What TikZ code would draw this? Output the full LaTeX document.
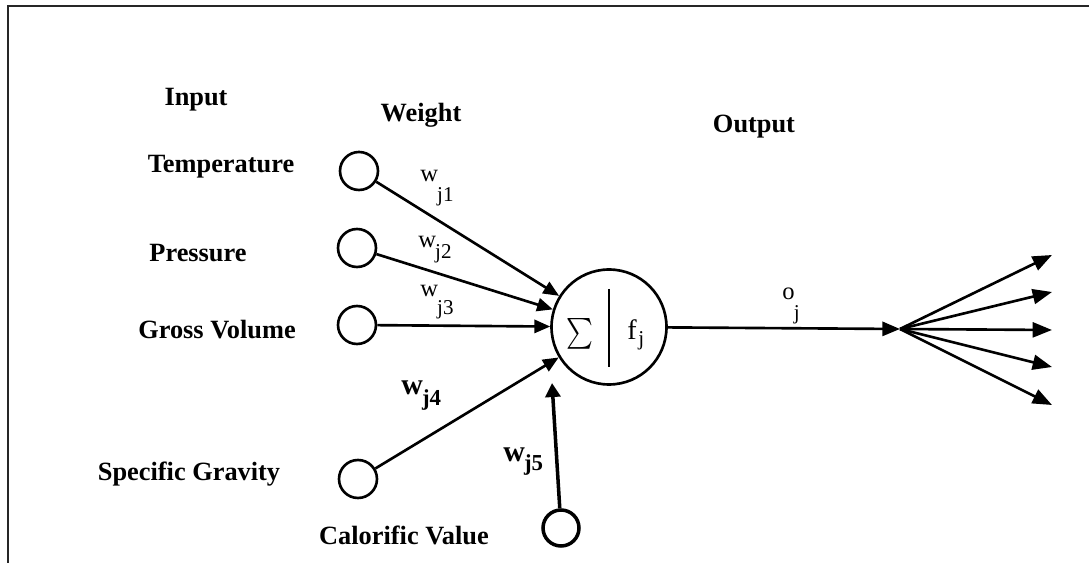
\documentclass[tikz,border=0pt]{standalone}
\usepackage{fontspec}
\setmainfont{Liberation Serif}
\usepackage{graphicx}
\usepackage{tikz}
\usetikzlibrary{arrows.meta,positioning}
\tikzset{
  innode/.style={circle, draw, line width=1.5pt, minimum size=0.76cm, inner sep=0pt},
  neuron/.style={circle, draw, line width=1.5pt, minimum size=2.3cm, inner sep=0pt},
  lab/.style={font=\fontsize{15}{18}\selectfont\bfseries, inner sep=0pt},
  wlab/.style={font=\fontsize{14}{16}\selectfont, inner sep=0pt},
  wbold/.style={font=\fontsize{17}{20}\selectfont\bfseries, inner sep=0pt},
  syn/.style={-{Triangle[length=9pt,width=7.5pt]}, line width=1.5pt},
  fan/.style={-{Triangle[length=11pt,width=8.5pt]}, line width=1.5pt},
  frame/.style={line width=1.1pt, draw=black!85},
}
\newcommand{\subj}[2]{\kern-0.5pt\raisebox{#1}{\fontsize{12}{14}\selectfont #2}}

\begin{document}
\begin{tikzpicture}[x=0.02cm, y=-0.02cm]
  \useasboundingbox (0,0) rectangle (1089,563);
  \draw[frame] (8,563) -- (8,6) -- (1089,6);

  % --- column heads ---
  \node[lab] (hin)  at (196,100) {Input};
  \node[lab] (hwt)  at (421,115) {Weight};
  \node[lab] (hout) at (754,127) {Output};

  % --- inputs ---
  \node[innode] (inT) at (359,171) {};
  \node[innode] (inP) at (357,248) {};
  \node[innode] (inG) at (357,325) {};
  \node[innode] (inS) at (358,479) {};
  \node[innode, line width=2pt, minimum size=0.72cm] (inC) at (561,528) {};
  \node[lab] (lT) at (221,167) {Temperature};
  \node[lab] (lP) at (198,253) {Pressure};
  \node[lab] (lG) at (217,330) {Gross Volume};
  \node[lab] (lS) at (189,474) {Specific Gravity};
  \node[lab] (lC) at (404,535) {Calorific Value};

  % --- neuron ---
  \node[neuron] (nrn) at (609,327) {};
  \node[inner sep=0pt] (sig) at (580,334) {\scalebox{1.45}[1.75]{$\textstyle\sum$}};
  \draw[line width=1.5pt] (609,289) -- (609,367);
  \node[inner sep=0pt, font=\fontsize{16}{18}\selectfont, anchor=base west] (fj) at (627,340)
       {f\kern1pt\raisebox{-3pt}{\fontsize{12}{14}\selectfont j}};

  % --- weights ---
  \coordinate (w5tip) at (552,383);
  \draw[syn] (inT) -- (nrn);
  \draw[syn] (inP) -- (nrn);
  \draw[syn] (inG) -- (nrn);
  \draw[syn] (inS) -- (nrn);
  \draw[syn, line width=2pt, -{Triangle[length=8pt,width=8.5pt]}] (inC) -- (w5tip);
  \node[wlab, anchor=base west] (wa) at (420,182) {w\subj{-11pt}{j1}};
  \node[wlab, anchor=base west] (wb) at (418,248) {w\subj{-6pt}{j2}};
  \node[wlab, anchor=base west] (wc) at (420,297) {w\subj{-10pt}{j3}};
  \node[wbold, anchor=base west] (wd) at (401,395)
       {w\kern-0.5pt\raisebox{-6pt}{\fontsize{13}{15}\selectfont\bfseries j4}};
  \node[wbold, anchor=base west] (we) at (503,462)
       {w\kern-0.5pt\raisebox{-5pt}{\fontsize{13}{15}\selectfont\bfseries j5}};

  % --- output ---
  \coordinate (hub) at (900,329);
  \draw[syn, -{Triangle[length=10pt,width=8pt]}] (nrn) -- (hub);
  \node[wlab, anchor=base west] (oj) at (782,300) {o\subj{-11pt}{j}};
  \foreach \k/\y in {1/255, 2/292, 3/330, 4/367, 5/405}{
    \coordinate (o\k) at (1052,\y);
    \draw[fan] (hub) -- (o\k);
  }
\end{tikzpicture}
\end{document}
